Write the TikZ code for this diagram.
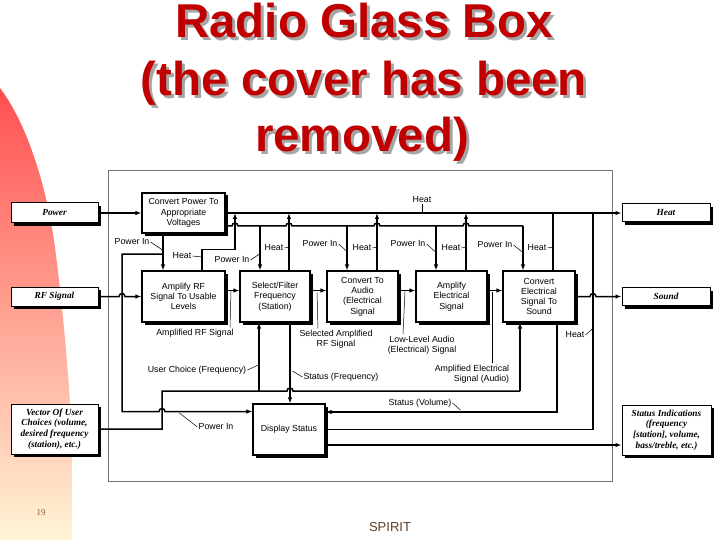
\documentclass[tikz,border=0pt]{standalone}
\usepackage{fontspec}
\setmainfont{Liberation Serif}
\setsansfont{Liberation Sans}
\usepackage{tikz}
\usetikzlibrary{arrows.meta,shadows}
\definecolor{titlered}{RGB}{192,0,0}
\definecolor{bandtop}{RGB}{255,80,80}
\definecolor{bandmid}{RGB}{255,168,130}
\definecolor{bandbot}{RGB}{255,244,214}
\definecolor{footbrown}{RGB}{140,90,50}

\begin{document}
\begin{tikzpicture}[x=1pt,y=-1pt,
  ttl/.style={font=\sffamily\bfseries\fontsize{47.5}{57}\selectfont,text=titlered,anchor=base,inner sep=0pt},
  ttlshadow/.style={ttl,text=black!35},
  blk/.style={draw,line width=1.2pt,fill=white,align=center,inner sep=0pt,
    font=\sffamily\fontsize{8.8}{10.3}\selectfont,
    drop shadow={shadow xshift=2.5pt,shadow yshift=-2.5pt,fill=black,opacity=1}},
  ext/.style={draw,line width=1pt,fill=white,align=center,inner sep=0pt,
    font=\rmfamily\bfseries\itshape\fontsize{9.3}{10.8}\selectfont,
    drop shadow={shadow xshift=3pt,shadow yshift=-3pt,fill=black,opacity=1}},
  lbl/.style={font=\sffamily\fontsize{8.8}{10.5}\selectfont,inner sep=1pt,align=center},
  wire/.style={line width=1.5pt},
  arr/.style={wire,-{Latex[length=6pt,width=4.5pt]}},
  tick/.style={line width=0.5pt}]
\useasboundingbox (0,0) rectangle (720,540);
\fill[white] (0,0) rectangle (720,540);
% side band of the slide
\shade[top color=bandtop,middle color=bandmid,bottom color=bandbot]
  (0,88) .. controls (28,125) and (48,190) .. (56,255)
  .. controls (64,320) and (70,390) .. (72,440) -- (72,540) -- (0,540) -- cycle;

% title
\node[ttlshadow] (t1s) at (367,41) {Radio Glass Box};
\node[ttl] (t1) at (364,38) {Radio Glass Box};
\node[ttlshadow] (t2s) at (367,99) {(the cover has been};
\node[ttl] (t2) at (364,96) {(the cover has been};
\node[ttlshadow] (t3s) at (365,155) {removed)};
\node[ttl] (t3) at (362,152) {removed)};

\node[font=\rmfamily\fontsize{9}{10}\selectfont,text=footbrown] (pgno) at (41,513) {19};
\node[font=\sffamily\fontsize{13}{14}\selectfont,text=footbrown!70!black] (spirit) at (390,527) {SPIRIT};

% the glass box
\draw[black!55,line width=0.8pt] (108,170) rectangle (612,481);

% inside
\node[blk,minimum width=83pt,minimum height=40pt] (cpv) at (183.5,213) {Convert Power To\\Appropriate\\Voltages};
\node[blk,minimum width=83pt,minimum height=51pt] (arf) at (183.5,296.5) {Amplify RF\\Signal To Usable\\Levels};
\node[blk,minimum width=70pt,minimum height=51pt] (sel) at (275,296.5) {Select/Filter\\Frequency\\(Station)};
\node[blk,minimum width=71pt,minimum height=51pt] (cta) at (362.5,296.5) {Convert To\\Audio\\(Electrical\\Signal};
\node[blk,minimum width=71pt,minimum height=51pt] (ael) at (451.5,296.5) {Amplify\\Electrical\\Signal};
\node[blk,minimum width=72pt,minimum height=51pt] (ces) at (539,296.5) {Convert\\Electrical\\Signal To\\Sound};
\node[blk,minimum width=72pt,minimum height=51pt] (dsp) at (289,429.5) {Display Status};

% outside
\node[ext,minimum width=87pt,minimum height=20pt] (pwr) at (54.5,213) {Power};
\node[ext,minimum width=87pt,minimum height=19pt] (rfs) at (54.5,296.5) {RF Signal};
\node[ext,minimum width=87pt,minimum height=50pt] (vec) at (54.5,429) {Vector Of User\\Choices (volume,\\desired frequency\\(station), etc.)};
\node[ext,minimum width=88pt,minimum height=18pt] (heat) at (666,213) {Heat};
\node[ext,minimum width=88pt,minimum height=18pt] (snd) at (666,296.5) {Sound};
\node[ext,minimum width=89pt,minimum height=50pt] (sti) at (666.5,430) {Status Indications\\(frequency\\{}[station], volume,\\bass/treble, etc.)};

% junctions
\coordinate (pwrout) at (225,226);
\coordinate (pd) at (163,254);
\coordinate (p1) at (260,226);
\coordinate (p2) at (347,226);
\coordinate (p3) at (436,226);
\coordinate (p4) at (523,226);
\coordinate (hb1) at (235,213);
\coordinate (hb2) at (289,213);
\coordinate (hb3) at (377,213);
\coordinate (hb4) at (466,213);
\coordinate (hb5) at (553,213);
\coordinate (hb6) at (593,213);
\coordinate (uc1) at (259,391);
\coordinate (uc2) at (520,391);
\coordinate (sf) at (290,391);
\coordinate (sv) at (557,412);
\coordinate (dspst) at ([yshift=-15.5pt]dsp.east);

% signal path
\draw[arr] (pwr) -- (cpv);
\draw[arr] (cpv) -- (heat);
\draw[arr] (rfs.east) -- (119,296.5) arc[start angle=180,end angle=0,radius=3pt] -- (arf.west);
\draw[arr] ([yshift=6pt]arf.east) -- ([yshift=6pt]sel.west);
\draw[arr] ([yshift=6pt]sel.east) -- ([yshift=6pt]cta.west);
\draw[arr] ([yshift=6pt]cta.east) -- ([yshift=6pt]ael.west);
\draw[arr] ([yshift=6pt]ael.east) -- ([yshift=6pt]ces.west);
\draw[arr] (ces.east) -- (590,296.5) arc[start angle=180,end angle=0,radius=3pt] -- (snd.west);

% heat
\draw[arr] ([xshift=18.5pt]arf.north) -- ++(0,-21) -| (hb1);
\draw[arr] (hb2 |- sel.north) -- (hb2);
\draw[arr] (hb3 |- cta.north) -- (hb3);
\draw[arr] (hb4 |- ael.north) -- (hb4);
\draw[wire] (hb5 |- ces.north) -- (hb5);
\draw[wire] (dsp.east) -| (hb6);

% power
\draw[wire] (pwrout) -- (232,226) arc[start angle=180,end angle=0,radius=3pt]
  -- (286,226) arc[start angle=180,end angle=0,radius=3pt]
  -- (374,226) arc[start angle=180,end angle=0,radius=3pt]
  -- (463,226) arc[start angle=180,end angle=0,radius=3pt] -- (p4);
\draw[arr] (p1) -- (p1 |- sel.north);
\draw[arr] (p2) -- (p2 |- cta.north);
\draw[arr] (p3) -- (p3 |- ael.north);
\draw[arr] (p4) -- (p4 |- ces.north);
\draw[arr] (pd |- cpv.south) -- (pd |- arf.north);
\draw[arr] (pd) -- (122,254) -- (122,411.5) -- (159,411.5)
  arc[start angle=180,end angle=0,radius=3pt] -- ([yshift=18pt]dsp.west);

% user choices and status
\draw[wire] (vec.east) -- (162,429) -- (162,391) -- (287,391)
  arc[start angle=180,end angle=0,radius=3pt] -- (uc2);
\draw[arr] (uc1) -- (uc1 |- sel.south);
\draw[arr] (uc2) -- (uc2 |- ces.south);
\draw[arr] (sf |- sel.south) -- (sf |- dsp.north);
\draw[arr] (sv |- ces.south) -- (sv) -- ([yshift=17.5pt]dsp.east);
\draw[arr] (dspst) -- (dspst -| sti.west);

% labels
\node[lbl] (lheat0) at (422,200) {Heat};
\draw[tick] (lheat0.south) -- ++(0,8);
\node[lbl] (lpw0) at (132,242) {Power In};
\draw[tick] (lpw0.east) -- ++(12,8);
\node[lbl] (lht1) at (182,256) {Heat};
\draw[tick] (lht1.east) -- ++(10,1);
\node[lbl] (lpw1) at (232,260) {Power In};
\draw[tick] (lpw1.east) -- ++(9,-6);
\node[lbl] (lht2) at (274,248) {Heat};
\draw[tick] (lht2.east) -- ++(5,-1);
\node[lbl] (lpw2) at (320,244) {Power In};
\draw[tick] (lpw2.east) -- ++(9,8);
\node[lbl] (lht3) at (362,248) {Heat};
\draw[tick] (lht3.east) -- ++(5,-1);
\node[lbl] (lpw3) at (408,244) {Power In};
\draw[tick] (lpw3.east) -- ++(9,8);
\node[lbl] (lht4) at (451,248) {Heat};
\draw[tick] (lht4.east) -- ++(5,-1);
\node[lbl] (lpw4) at (495,245) {Power In};
\draw[tick] (lpw4.east) -- ++(10,8);
\node[lbl] (lht5) at (537,248) {Heat};
\draw[tick] (lht5.east) -- ++(6,-1);
\node[lbl] (lamprf) at (195,333) {Amplified RF Signal};
\draw[tick] ([xshift=35pt]lamprf.north) -- ++(1,-37);
\node[lbl] (lsel) at (336,339) {Selected Amplified\\RF Signal};
\draw[tick] ([xshift=-18pt]lsel.north) -- ++(-1,-36);
\node[lbl] (llow) at (422,345) {Low-Level Audio\\(Electrical) Signal};
\draw[tick] ([xshift=-19pt]llow.north) -- ++(2,-43);
\node[lbl] (luc) at (197,370) {User Choice (Frequency)};
\draw[tick] (luc.east) -- ++(11,-5);
\node[lbl] (lsf) at (341,377) {Status (Frequency)};
\draw[tick] (lsf.west) -- ++(-10,-6);
\node[lbl,align=right] (lae) at (472,374) {Amplified Electrical\\Signal (Audio)};
\draw[tick] ([xshift=20pt]lae.north) -- ++(0,-71);
\node[lbl] (lht6) at (575,335) {Heat};
\draw[tick] (lht6.east) -- ++(8,-7);
\node[lbl] (lsv) at (420,403) {Status (Volume)};
\draw[tick] (lsv.east) -- ++(8,7);
\node[lbl] (lpw5) at (216,427) {Power In};
\draw[tick] (lpw5.west) -- ++(-18,-14);
\end{tikzpicture}
\end{document}
